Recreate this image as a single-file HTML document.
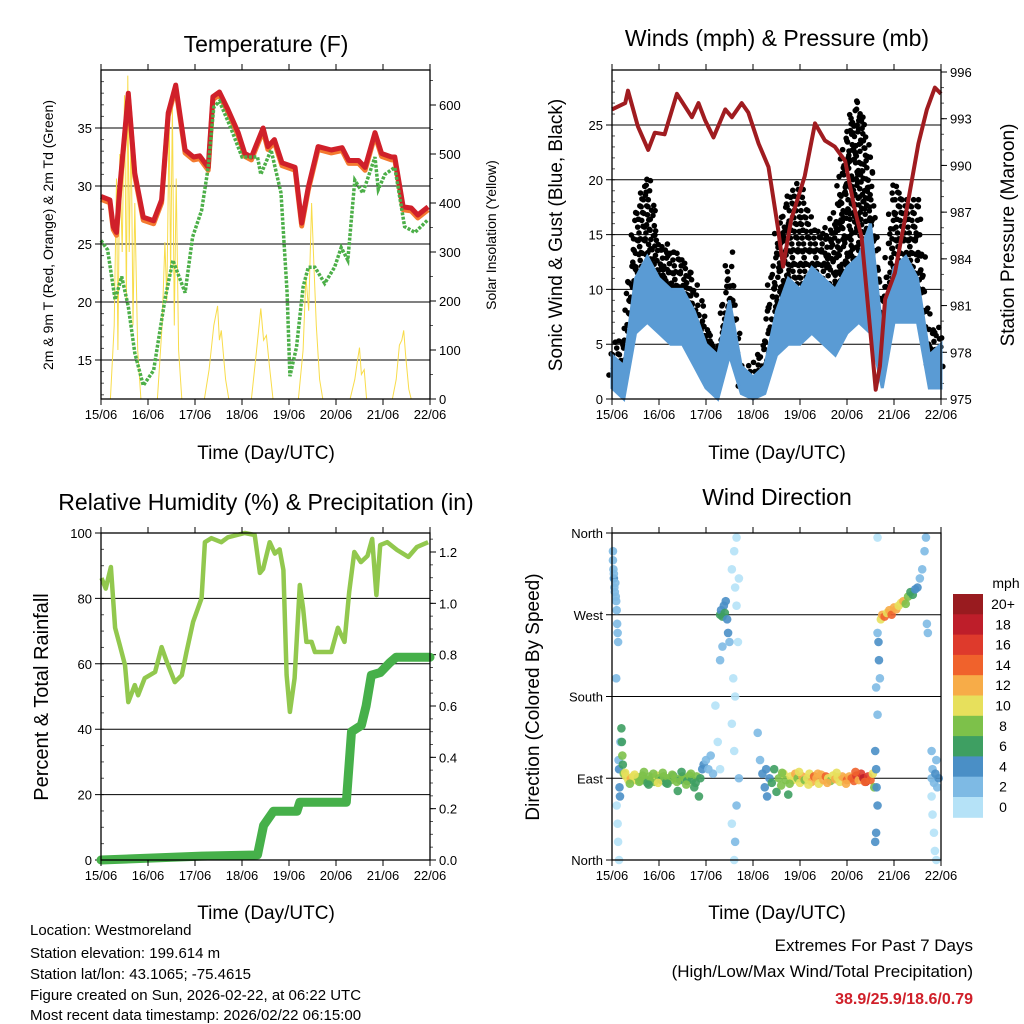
<!DOCTYPE html>
<html><head><meta charset="utf-8"><style>
html,body{margin:0;padding:0;background:#fff;}
svg{display:block;font-family:"Liberation Sans",Arial,sans-serif;}
</style></head><body>
<svg id="c" width="1024" height="1024" viewBox="0 0 1024 1024">
<rect width="1024" height="1024" fill="#fff"/>
<text x="266" y="52" font-size="23" text-anchor="middle">Temperature (F)</text>
<text x="777" y="46" font-size="23" text-anchor="middle">Winds (mph) &amp; Pressure (mb)</text>
<text x="266" y="510" font-size="23" text-anchor="middle">Relative Humidity (%) &amp; Precipitation (in)</text>
<text x="777" y="505" font-size="23" text-anchor="middle">Wind Direction</text>
<text x="266" y="459" font-size="19" text-anchor="middle">Time (Day/UTC)</text>
<text x="777" y="459" font-size="19" text-anchor="middle">Time (Day/UTC)</text>
<text x="266" y="919" font-size="19" text-anchor="middle">Time (Day/UTC)</text>
<text x="777" y="919" font-size="19" text-anchor="middle">Time (Day/UTC)</text>
<text transform="translate(53,235) rotate(-90)" font-size="14" text-anchor="middle">2m &amp; 9m T (Red, Orange) &amp; 2m Td (Green)</text>
<text transform="translate(496,235) rotate(-90)" font-size="14" text-anchor="middle">Solar Insolation (Yellow)</text>
<text transform="translate(562,235) rotate(-90)" font-size="19" text-anchor="middle">Sonic Wind &amp; Gust (Blue, Black)</text>
<text transform="translate(1014,235) rotate(-90)" font-size="19" text-anchor="middle">Station Pressure (Maroon)</text>
<text transform="translate(48,697) rotate(-90)" font-size="20" text-anchor="middle">Percent &amp; Total Rainfall</text>
<text transform="translate(539,697) rotate(-90)" font-size="19" text-anchor="middle">Direction (Colored By Speed)</text>
<g font-size="15">
<text x="30" y="935">Location: Westmoreland</text>
<text x="30" y="958">Station elevation: 199.614 m</text>
<text x="30" y="979">Station lat/lon: 43.1065; -75.4615</text>
<text x="30" y="1000">Figure created on Sun, 2026-02-22, at 06:22 UTC</text>
<text x="30" y="1020">Most recent data timestamp: 2026/02/22 06:15:00</text>
</g>
<g font-size="17" text-anchor="end">
<text x="973" y="951">Extremes For Past 7 Days</text>
<text x="973" y="977">(High/Low/Max Wind/Total Precipitation)</text>
<text x="973" y="1004" fill="#d0202a" font-weight="bold" font-size="16">38.9/25.9/18.6/0.79</text>
</g>
</svg>
<script>
// ---------- data ----------
const tempT=[0,0.19,0.26,0.33,0.40,0.58,0.72,0.90,1.12,1.29,1.43,1.59,1.79,1.97,2.10,2.28,2.38,2.52,2.70,2.92,3.06,3.2,3.45,3.55,3.69,3.85,4.13,4.27,4.41,4.62,4.90,5.13,5.27,5.48,5.62,5.83,5.97,6.18,6.25,6.43,6.60,6.74,6.96];
const tempV=[29.1,28.8,26.5,26.0,29.9,38.0,31.1,27.3,27.0,28.8,36.3,38.7,33.1,32.5,32.6,31.6,37.7,38.1,36.6,34.6,32.8,32.5,35.0,33.4,34.0,32.0,31.6,26.8,29.9,33.4,33.1,33.3,32.2,32.2,31.6,34.6,32.8,32.5,32.5,28.2,28.1,27.5,28.2];
const dewT=[0,0.14,0.30,0.44,0.58,0.72,0.90,1.12,1.36,1.53,1.79,1.95,2.14,2.28,2.40,2.52,2.75,3.0,3.33,3.4,3.62,3.83,3.96,4.02,4.16,4.3,4.41,4.55,4.76,4.97,5.11,5.25,5.40,5.57,5.83,5.90,6.04,6.25,6.46,6.68,6.96];
const dewV=[25.3,24.5,20.2,22.2,19.6,15.6,12.8,14.1,20.2,23.6,20.8,25.6,27.9,31.6,36.8,37.3,35.1,32.5,32.5,31.0,33.1,29.4,20.8,13.6,16.1,21.3,23.0,23.0,21.6,23.0,24.7,23.6,30.5,29.4,32.5,29.7,31.0,31.6,26.5,26.0,27.1];
const solarT=[0,0.2,0.28,0.33,0.36,0.40,0.45,0.50,0.54,0.57,0.60,0.64,0.68,0.72,0.78,0.85,1.2,1.3,1.36,1.40,1.45,1.48,1.52,1.56,1.60,1.65,1.72,2.2,2.3,2.4,2.48,2.52,2.56,2.65,2.72,3.2,3.3,3.40,3.46,3.52,3.58,3.66,4.2,4.3,4.36,4.42,4.48,4.52,4.58,4.65,4.72,5.3,5.4,5.46,5.50,5.54,5.60,5.65,6.2,6.28,6.35,6.40,6.44,6.48,6.55,6.6,7];
const solarV=[0,0,150,450,100,500,300,620,200,660,300,560,150,400,100,0,0,150,320,200,580,250,600,150,450,100,0,0,60,150,190,120,140,40,0,0,90,185,120,130,70,0,0,100,250,180,400,300,150,40,0,0,40,80,105,50,60,0,0,40,110,120,140,90,20,0,0];
const pressT=[0,0.28,0.34,0.55,0.77,0.91,1.12,1.38,1.55,1.70,1.84,1.98,2.16,2.41,2.55,2.76,2.9,3.12,3.33,3.53,3.64,3.81,4.1,4.32,4.53,4.74,4.96,5.17,5.31,5.49,5.61,5.70,5.81,6.02,6.23,6.52,6.70,6.87,7.0];
const pressV=[993.6,994.0,994.8,992.5,991.0,992.1,992.0,994.6,993.8,993.1,994.0,992.9,991.8,993.6,993.1,994.0,993.4,991.4,989.9,986.0,983.5,986.5,989.3,992.7,991.6,991.2,990.3,987.1,985.4,979.6,975.6,977.1,981.4,983.1,986.5,991.4,993.6,995.0,994.6];
const windT=[0,0.25,0.5,0.75,1,1.25,1.5,1.75,2,2.25,2.5,2.75,3,3.25,3.5,3.75,4,4.25,4.5,4.75,5,5.25,5.5,5.75,6,6.25,6.5,6.75,7];
const windLow=[1,0,6,7,6,5,5,3,1,0,4,0.5,0,0.5,4,5,5,6,5,4,6,7,6,1,7,7,7,1,1];
const windHigh=[4,3,11,13,11,10,10,8,5,4,9,3,2,3,8,11,10,12,11,10,12,13,16,6,12,13,11,4,5];
const gustLow=[2,2,10,10,8,7,7,4,2,1,7,1,1,2,6,9,9,9,9,8,10,11,8,3,10,10,10,3,2];
const gustHigh=[5,6,17,21,14,14,13,11,7,5,14,3,3,6,15,19,20,16,15,17,25,28,22,8,20,18,18,6,7];
const rhT=[0.01,0.1,0.21,0.3,0.4,0.51,0.58,0.72,0.79,0.93,1.15,1.29,1.40,1.57,1.72,1.82,1.96,2.14,2.21,2.35,2.56,2.70,3.06,3.27,3.38,3.45,3.59,3.70,3.80,3.88,3.95,4.02,4.12,4.23,4.30,4.37,4.48,4.55,4.76,4.9,5.04,5.18,5.28,5.39,5.53,5.67,5.77,5.86,5.94,6.09,6.30,6.54,6.72,6.96];
const rhV=[86.2,83,89.6,71,65.7,59.6,48.3,53.5,50.4,55.6,57.5,65.1,60.6,54.4,56.5,63.6,72.8,80.1,97.2,98.4,97.2,98.7,100,99.4,87.8,89,97.2,93.7,95,88.7,56.6,45.3,55.6,84.1,77,66.7,66.7,63.6,63.6,63.6,71,66.7,82,94.2,91.1,93,98.2,81,96.3,97.2,94.8,92.7,95.7,97.2];
const rainT=[0,2.14,3.33,3.46,3.67,4.17,4.23,5.22,5.33,5.54,5.64,5.75,5.94,6.15,6.28,7.0];
const rainV=[0,0.015,0.02,0.135,0.19,0.19,0.225,0.225,0.5,0.525,0.6,0.72,0.73,0.77,0.79,0.79];
const dirT=[0.02,0.03,0.04,0.05,0.06,0.07,0.08,0.09,0.1,0.11,0.12,0.13,0.09,0.04,0.02,
0.1,0.12,0.13,0.15,0.14,0.15,0.16,0.17,0.18,0.2,0.21,0.22,0.23,0.25,0.3,0.35,0.4,0.45,0.5,0.55,0.6,0.65,0.7,0.75,0.8,0.85,0.9,0.95,1.0,1.05,1.1,1.15,1.2,1.25,1.3,1.35,1.4,1.45,1.5,1.55,1.6,1.65,1.7,1.75,1.8,1.85,1.88,1.92,1.95,2.0,2.05,2.1,2.15,
0.28,0.38,0.48,0.58,0.68,0.78,0.88,0.98,1.08,1.18,1.28,1.38,1.48,1.58,1.68,1.78,
2.3,2.32,2.35,2.38,2.4,2.42,2.45,2.47,2.5,2.35,2.3,
2.2,2.25,2.3,2.55,2.6,2.62,2.65,2.58,2.55,2.6,2.55,2.62,2.6,2.65,2.7,2.68,2.7,2.65,2.62,
3.1,3.15,3.2,3.25,3.28,3.3,3.35,3.4,3.45,3.5,
3.55,3.6,3.65,3.7,3.75,3.8,3.85,3.9,3.95,4.0,4.05,4.1,4.15,4.2,4.25,4.3,4.35,4.4,4.45,4.5,4.55,4.6,4.65,4.7,4.75,4.8,4.85,4.9,4.95,5.0,5.05,5.1,5.15,5.2,5.25,5.3,5.35,5.4,5.45,5.5,5.55,5.58,
3.62,3.78,3.98,4.18,4.38,4.58,4.78,4.98,5.18,5.38,
5.6,5.62,5.63,5.65,5.62,5.6,5.65,5.62,
5.65,5.67,5.68,5.7,5.72,5.75,5.8,5.85,5.9,5.95,6.0,6.05,6.1,6.15,6.2,6.25,6.3,6.35,6.4,6.45,6.5,6.55,6.6,6.65,6.68,6.7,6.72,5.65,
6.8,6.82,6.85,6.88,6.9,6.92,6.95,6.8,6.82,6.85,6.8,6.87,6.9];
const dirV=[330,320,310,300,295,305,290,285,275,260,250,240,200,315,340,
60,40,20,0,110,100,80,70,130,145,130,115,105,95,92,88,90,92,88,91,87,93,89,85,92,90,86,93,90,88,92,85,90,88,93,90,76,88,92,90,87,93,88,80,92,70,90,100,105,110,100,115,95,
96,84,94,86,97,83,95,85,96,84,94,86,97,83,95,85,
270,275,268,280,272,285,265,250,240,235,220,
170,130,100,320,340,300,280,200,150,120,40,20,0,355,310,240,90,60,180,
140,110,95,80,100,70,90,85,100,75,
90,82,95,88,72,92,88,95,90,85,92,88,90,95,86,92,90,84,94,88,92,90,87,93,89,91,86,92,90,88,92,90,87,93,88,95,90,86,92,88,95,80,
96,84,97,83,95,85,96,84,97,86,
120,100,80,60,30,20,160,190,
250,240,220,200,265,270,268,272,275,270,278,276,280,283,285,282,290,295,292,298,300,310,320,340,355,260,250,355,
90,100,85,95,110,80,90,70,50,30,120,10,0];
const dirS=[3,3,4,3,3,2,3,3,3,3,3,3,2,2,3,
1,1,1,1,3,4,4,4,3,6,7,8,7,9,10,11,12,11,10,9,8,9,8,7,9,8,9,10,8,7,8,7,9,8,7,8,6,7,8,9,7,8,6,7,8,6,7,4,4,3,3,3,3,
10,9,11,8,9,7,9,10,8,7,9,8,7,9,8,7,
6,5,7,4,6,4,4,4,3,2,2,
1,1,1,1,1,1,1,1,1,1,1,2,1,1,1,1,2,2,1,
2,3,4,4,4,4,5,6,7,6,
9,8,10,9,7,11,10,12,9,10,12,9,11,10,13,14,12,10,13,12,14,11,9,10,12,10,11,13,12,14,13,15,14,16,13,17,18,19,17,15,10,9,
8,9,11,10,12,13,11,12,14,15,
4,4,4,4,4,4,2,2,
3,4,4,2,10,12,14,11,12,15,13,12,11,10,12,9,8,7,6,5,4,3,3,2,2,2,2,1,
3,3,3,4,3,3,4,1,1,1,2,1,1];
const speedBins=["0","2","4","6","8","10","12","14","16","18","20+"];
const speedColors=["#b5e2f7","#7ebae4","#4a8fc6","#3e9f62","#7dc14a","#e7e05c","#f7ac48","#f0622c","#de3a2c","#be1e2a","#991b1f"];
const dayLabels=["15/06","16/06","17/06","18/06","19/06","20/06","21/06","22/06"];

// ---------- helpers ----------
const NS="http://www.w3.org/2000/svg";
const svg=document.getElementById('c');
function mk(tag,attrs,parent){const e=document.createElementNS(NS,tag);for(const k in attrs)e.setAttribute(k,attrs[k]);(parent||svg).appendChild(e);return e;}
function panel(x0,x1,y0,y1){return{x0,x1,y0,y1,x:t=>x0+(x1-x0)*t/7};}
function lin(v0,v1,p0,p1){return v=>p0+(v-v0)*(p1-p0)/(v1-v0);}
function path(xs,ys,fx,fy){return xs.map((t,i)=>(i?'L':'M')+fx(t).toFixed(1)+','+fy(ys[i]).toFixed(1)).join('');}
function frame(P,name){
  const g=mk('g',{});
  
  
  mk('rect',{x:P.x0,y:P.y0,width:P.x1-P.x0,height:P.y1-P.y0,fill:'none',stroke:'#000','stroke-width':1.3},g);
  for(let d=0;d<=7;d++){const x=P.x(d);
    mk('line',{x1:x,x2:x,y1:P.y1,y2:P.y1+6,stroke:'#000'},g);
    mk('line',{x1:x,x2:x,y1:P.y0,y2:P.y0-6,stroke:'#000'},g);
    const t=mk('text',{x:x,y:P.y1+20,'font-size':13,'text-anchor':'middle'},g);t.textContent=dayLabels[d];
    
    }
}
function leftAxis(P,vals,fy,labels,grid,ticksize){
  vals.forEach((v,i)=>{const y=fy(v);
    if(grid) mk('line',{x1:P.x0-6,x2:P.x1,y1:y,y2:y,stroke:'#000','stroke-width':1});
    else mk('line',{x1:P.x0-6,x2:P.x0,y1:y,y2:y,stroke:'#000'});
    const t=mk('text',{x:P.x0-9,y:y+5,'font-size':ticksize||13,'text-anchor':'end'});t.textContent=labels[i];
    
    });
}
function rightAxis(P,vals,fy,labels){
  vals.forEach((v,i)=>{const y=fy(v);
    mk('line',{x1:P.x1,x2:P.x1+6,y1:y,y2:y,stroke:'#000'});
    const t=mk('text',{x:P.x1+9,y:y+5,'font-size':13});t.textContent=labels[i];
    
    });
}
function minor(P,v0,v1,step,fy,side){
  for(let v=v0;v<=v1+1e-9;v+=step){const y=fy(v);
    if(side==='r') mk('line',{x1:P.x1,x2:P.x1+3,y1:y,y2:y,stroke:'#555'});
    else mk('line',{x1:P.x0,x2:P.x0+3,y1:y,y2:y,stroke:'#555'});}
}

// ---------- Panel 1: temperature ----------
const P1=panel(101,430,70,399);
const fT=lin(15,35,360,128), fS=lin(0,600,399,105);
minor(P1,12,40,1,fT,'l');minor(P1,0,650,50,fS,'r');
leftAxis(P1,[15,20,25,30,35],fT,["15","20","25","30","35"],true);
rightAxis(P1,[0,100,200,300,400,500,600],fS,["0","100","200","300","400","500","600"]);
let e=mk('path',{d:path(solarT,solarV,P1.x,fS),fill:'none',stroke:'#f8dc4a','stroke-width':1});

e=mk('path',{d:path(tempT,tempV.map(v=>v-0.25),P1.x,fT),fill:'none',stroke:'#f47a30','stroke-width':5,'stroke-linejoin':'round'});

e=mk('path',{d:path(tempT,tempV,P1.x,fT),fill:'none',stroke:'#d0202a','stroke-width':5,'stroke-linejoin':'round'});

e=mk('path',{d:path(dewT,dewV,P1.x,fT),fill:'none',stroke:'#4caf48','stroke-width':3.5,'stroke-dasharray':'3 1.5'});

frame(P1,'temperature');

// ---------- Panel 2: winds ----------
const P2=panel(612,941,70,399);
const fW=lin(0,25,399,125), fP=lin(975,996,399,72);
minor(P2,0,29,1,fW,'l');minor(P2,975,996,1,fP,'r');
leftAxis(P2,[0,5,10,15,20,25],fW,["0","5","10","15","20","25"],true);
rightAxis(P2,[975,978,981,984,987,990,993,996],fP,["975","978","981","984","987","990","993","996"]);
const gG=mk('g',{fill:'#000'});

const SUB=10;
for(let i=0;i<windT.length-1;i++){
  for(let k=0;k<SUB;k++){const f=k/SUB;const t=windT[i]+f*(windT[i+1]-windT[i]);
    const lo=gustLow[i]+f*(gustLow[i+1]-gustLow[i]), hi=gustHigh[i]+f*(gustHigh[i+1]-gustHigh[i]);
    const off=((k*7)%5)*0.35;
    for(let v=lo+off,j=0;v<=hi;v+=1.6,j++){
      mk('circle',{cx:P2.x(t)+((j*5+k*3)%7)-3,cy:fW(v)+((j*3+k)%5)-2,r:2.8},gG);}}
}
const bandD=path(windT,windHigh,P2.x,fW)+path(windT.slice().reverse(),windLow.slice().reverse(),P2.x,fW).replace('M','L')+'Z';
e=mk('path',{d:bandD,fill:'#5a9bd4',stroke:'#5a9bd4','stroke-width':3});

e=mk('path',{d:path(pressT,pressV,P2.x,fP),fill:'none',stroke:'#a01c20','stroke-width':4,'stroke-linejoin':'round'});

frame(P2,'winds');

// ---------- Panel 3: RH & rain ----------
const P3=panel(101,430,533,860);
const fR=lin(0,100,860,533), fI=lin(0,1.2,860,552);
minor(P3,0,100,5,fR,'l');minor(P3,0,1.25,0.05,fI,'r');
leftAxis(P3,[0,20,40,60,80,100],fR,["0","20","40","60","80","100"],true);
rightAxis(P3,[0,0.2,0.4,0.6,0.8,1.0,1.2],fI,["0.0","0.2","0.4","0.6","0.8","1.0","1.2"]);
e=mk('path',{d:path(rhT,rhV,P3.x,fR),fill:'none',stroke:'#92c84e','stroke-width':4.5,'stroke-linejoin':'round'});

e=mk('path',{d:path(rainT,rainV,P3.x,fI),fill:'none',stroke:'#46b04a','stroke-width':9,'stroke-linejoin':'round','stroke-linecap':'round'});

frame(P3,'humidity');

// ---------- Panel 4: direction ----------
const P4=panel(612,941,533,860);
const fD=lin(0,360,860,533);
leftAxis(P4,[0,90,180,270,360],fD,["North","East","South","West","North"],true,13);
function colorFor(s){let b=Math.floor(s/2);if(b>10)b=10;if(b<0)b=0;return speedColors[b];}
const gD=mk('g',{});

dirT.forEach((t,i)=>{mk('circle',{cx:P4.x(t),cy:fD(dirV[i]),r:4.3,fill:colorFor(dirS[i]),'fill-opacity':0.9},gD);});
frame(P4,'direction');
// colorbar
const cb=mk('g',{});

const cbTop=594,cbH=20.3;
for(let i=0;i<speedBins.length;i++){const j=speedBins.length-1-i;const y=cbTop+i*cbH;
  mk('rect',{x:953,y:y,width:30,height:cbH+0.5,fill:speedColors[j]},cb);
  const t=mk('text',{x:1003,y:y+15,'font-size':14,'text-anchor':'middle'},cb);t.textContent=speedBins[j];}
const mph=mk('text',{x:1006,y:588,'font-size':14,'text-anchor':'middle'},cb);mph.textContent='mph';
</script>
</body></html>
